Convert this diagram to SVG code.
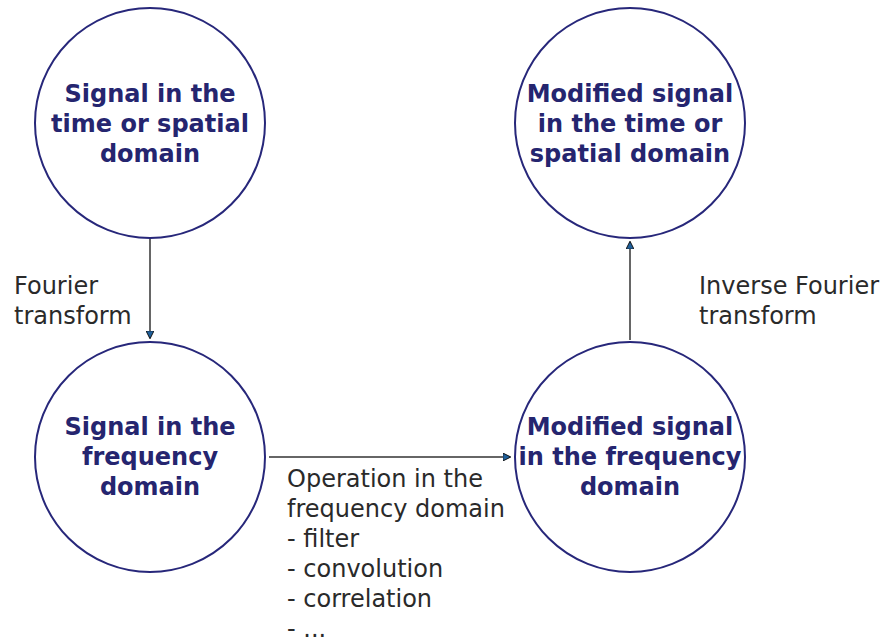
<svg xmlns="http://www.w3.org/2000/svg" width="883" height="639" viewBox="0 0 883 639">
  <style>
    .node circle { fill: #ffffff; stroke: #27277a; stroke-width: 2; }
    .node text { font-family: "DejaVu Sans", sans-serif; font-weight: bold; font-size: 24px; fill: #25256f; text-anchor: middle; }
    .lbl { font-family: "DejaVu Sans", sans-serif; font-size: 24px; fill: #2a2a2a; }
    .edge { stroke: #333333; stroke-width: 1.5; fill: none; marker-end: url(#head); }
  </style>
  <defs>
    <marker id="head" viewBox="0 0 10 10" refX="9" refY="5" markerWidth="8" markerHeight="8" markerUnits="userSpaceOnUse" orient="auto">
      <path d="M0,0 L10,5 L0,10 z" fill="#1f5f9a" stroke="#111" stroke-width="1.2"/>
    </marker>
  </defs>
  <rect width="883" height="639" fill="#ffffff"/>

  <g id="connectors">
    <line class="edge" x1="150" y1="239" x2="150" y2="338"/>
    <line class="edge" x1="269" y1="457" x2="510" y2="457"/>
    <line class="edge" x1="630" y1="340" x2="630" y2="242"/>
    <text class="lbl" x="14" y="294">Fourier</text>
    <text class="lbl" x="14" y="324">transform</text>
    <text class="lbl" x="699" y="294">Inverse Fourier</text>
    <text class="lbl" x="699" y="324">transform</text>
    <text class="lbl" x="287" y="487">Operation in the</text>
    <text class="lbl" x="287" y="517">frequency domain</text>
    <text class="lbl" x="287" y="547">- filter</text>
    <text class="lbl" x="287" y="577">- convolution</text>
    <text class="lbl" x="287" y="607">- correlation</text>
    <text class="lbl" x="287" y="637">- ...</text>
  </g>

  <g id="time-signal" class="node">
    <circle cx="150" cy="123" r="115"/>
    <text x="150" y="102">Signal in the</text>
    <text x="150" y="132">time or spatial</text>
    <text x="150" y="162">domain</text>
  </g>
  <g id="freq-signal" class="node">
    <circle cx="150" cy="457" r="115"/>
    <text x="150" y="435">Signal in the</text>
    <text x="150" y="465">frequency</text>
    <text x="150" y="495">domain</text>
  </g>
  <g id="mod-time-signal" class="node">
    <circle cx="630" cy="123" r="115"/>
    <text x="630" y="102">Modified signal</text>
    <text x="630" y="132">in the time or</text>
    <text x="630" y="162">spatial domain</text>
  </g>
  <g id="mod-freq-signal" class="node">
    <circle cx="630" cy="457" r="115"/>
    <text x="630" y="435">Modified signal</text>
    <text x="630" y="465">in the frequency</text>
    <text x="630" y="495">domain</text>
  </g>
</svg>
